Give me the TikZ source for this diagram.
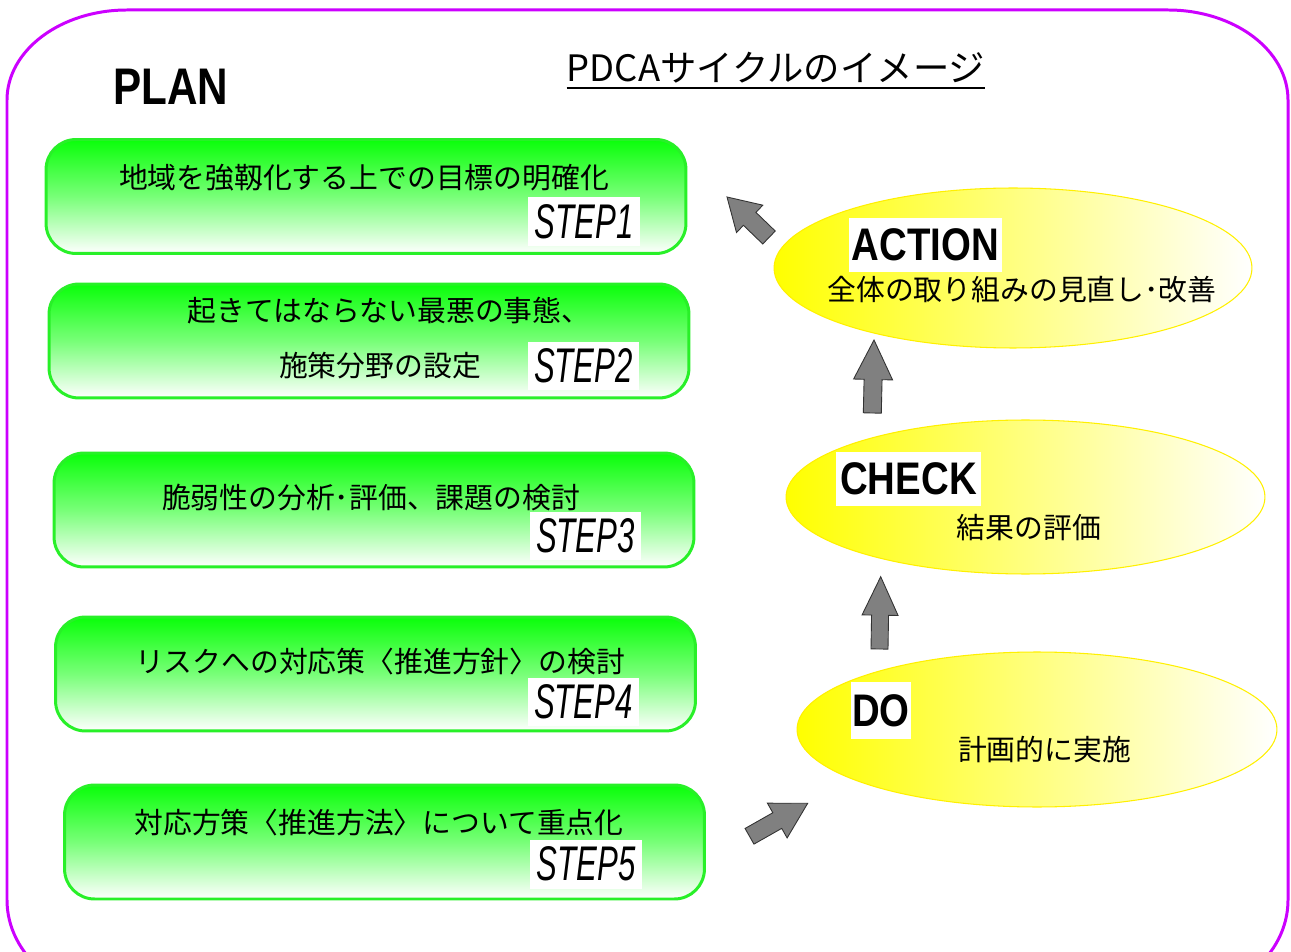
\documentclass[tikz,border=0pt]{standalone}
\usepackage{fontspec}
\usepackage{graphicx}
\setmainfont{Noto Sans CJK JP}
\newfontfamily\lat{Liberation Sans}
\usetikzlibrary{shapes.geometric,calc}
\definecolor{framec}{RGB}{204,0,255}
\definecolor{gtop}{RGB}{10,255,10}
\definecolor{gmid}{RGB}{120,255,120}
\definecolor{gedge}{RGB}{40,240,40}
\definecolor{agray}{RGB}{128,128,128}
\definecolor{yedge}{RGB}{255,240,0}
\newcommand{\blockarrow}[5]{%
  \coordinate (ba-n) at ($(#2)!#5!(#1)$);
  \draw[barrow] ($(#1)!#3!90:(#2)$) -- ($(ba-n)!#3!90:(#2)$) -- ($(ba-n)!#4!90:(#2)$) -- (#2)
    -- ($(ba-n)!#4!-90:(#2)$) -- ($(ba-n)!#3!-90:(#2)$) -- ($(#1)!#3!-90:(#2)$) -- cycle;}
\begin{document}
\begin{tikzpicture}[x=0.02cm,y=-0.02cm,
  gbox/.style={rectangle, rounded corners=0.6cm, minimum width=12.8cm, minimum height=2.28cm,
    draw=gedge, line width=1.7pt, top color=gtop, bottom color=white, middle color=gmid, inner sep=0},
  jtext/.style={font=\fontsize{16.4pt}{18pt}\selectfont, inner sep=0},
  steplbl/.style={fill=white, minimum width=2.24cm, minimum height=0.98cm, inner sep=0,
    font=\lat\itshape\fontsize{27.7pt}{30pt}\selectfont},
  ell/.style={ellipse, draw=yedge, line width=0.6pt, left color=yellow, right color=white,
    minimum width=9.6cm, minimum height=3.1cm, inner sep=0},
  hd/.style={fill=white, inner sep=0, font=\lat\bfseries\fontsize{26pt}{28pt}\selectfont},
  barrow/.style={fill=agray, draw=black!80, line width=0.5pt, line join=miter}
]
\useasboundingbox (0,0) rectangle (1291,952);
\clip (0,0) rectangle (1291,952);
\fill[white] (0,0) rectangle (1291,952);
% outer frame
\draw[framec, line width=1.7pt] (7,100) arc[start angle=180,end angle=270,x radius=120,y radius=90]
  -- (1168,10) arc[start angle=270,end angle=360,x radius=120,y radius=90]
  -- (1288,900) arc[start angle=0,end angle=90,x radius=120,y radius=100]
  -- (127,1000) arc[start angle=90,end angle=180,x radius=120,y radius=100] -- cycle;

% title
\node[inner sep=0] (title) at (776,68) {\fontsize{20.7pt}{22pt}\selectfont PDCAサイクルのイメージ};
\coordinate (ul) at (0,88);
\draw[line width=1.3pt] (title.west |- ul) -- (title.east |- ul);

\node[inner sep=0, font=\lat\bfseries\fontsize{29.3pt}{31pt}\selectfont] (plan) at (171,87) {\scalebox{0.82}[1]{PLAN}};

% PLAN boxes
\node[gbox] (b1) at (366,196.5) {};
\node[gbox] (b2) at (369,341) {};
\node[gbox] (b3) at (374,510) {};
\node[gbox] (b4) at (375.5,674) {};
\node[gbox] (b5) at (384.5,842) {};

\node[jtext] (t1) at (364,178) {地域を強靱化する上での目標の明確化};
\node[jtext] (t2a) at (389,311) {起きてはならない最悪の事態、};
\node[jtext] (t2b) at (380,366) {施策分野の設定};
\node[jtext] (t3) at (371,497) {脆弱性の分析･評価、課題の検討};
\node[jtext] (t4) at (380,662) {リスクへの対応策〈推進方針〉の検討};
\node[jtext] (t5) at (379,823) {対応方策〈推進方法〉について重点化};

\node[steplbl] (s1) at (584,221.5) {\scalebox{0.64}[1]{STEP1}};
\node[steplbl] (s2) at (583.5,366) {\scalebox{0.64}[1]{STEP2}};
\node[steplbl] (s3) at (585.5,536) {\scalebox{0.64}[1]{STEP3}};
\node[steplbl] (s4) at (583.5,702) {\scalebox{0.64}[1]{STEP4}};
\node[steplbl] (s5) at (586,864) {\scalebox{0.64}[1]{STEP5}};

% ellipses
\node[ell, minimum width=9.56cm, minimum height=3.2cm] (act) at (1013,268) {};
\node[ell, minimum width=9.58cm, minimum height=3.08cm] (chk) at (1025.5,497) {};
\node[ell, minimum width=9.6cm, minimum height=3.1cm] (do) at (1037,729.5) {};

\node[hd, minimum width=3.06cm, minimum height=1.08cm] (acth) at (925.5,245) {\scalebox{0.84}[1]{ACTION}};
\node[jtext] (actt) at (1022,290) {全体の取り組みの見直し･改善};
\node[hd, minimum width=2.9cm, minimum height=1.08cm] (chkh) at (908.5,479) {\scalebox{0.84}[1]{CHECK}};
\node[jtext] (chkt) at (1029,528) {結果の評価};
\node[hd, minimum width=1.2cm, minimum height=1.14cm] (doh) at (881,710.5) {\scalebox{0.84}[1]{DO}};
\node[jtext] (dot) at (1044.5,750) {計画的に実施};

% block arrows
\coordinate (a1t) at (749.5,836.3); \coordinate (a1h) at (807.7,803.3);
\coordinate (a2t) at (879.5,649);   \coordinate (a2h) at (880.7,576.7);
\coordinate (a3t) at (872.3,413);   \coordinate (a3h) at (874,340);
\coordinate (a4t) at (769,237.5);   \coordinate (a4h) at (727,197);
\blockarrow{a1t}{a1h}{0.18cm}{0.40cm}{0.70cm}
\blockarrow{a2t}{a2h}{0.17cm}{0.36cm}{0.77cm}
\blockarrow{a3t}{a3h}{0.18cm}{0.39cm}{0.79cm}
\blockarrow{a4t}{a4h}{0.18cm}{0.38cm}{0.63cm}
\end{tikzpicture}
\end{document}
